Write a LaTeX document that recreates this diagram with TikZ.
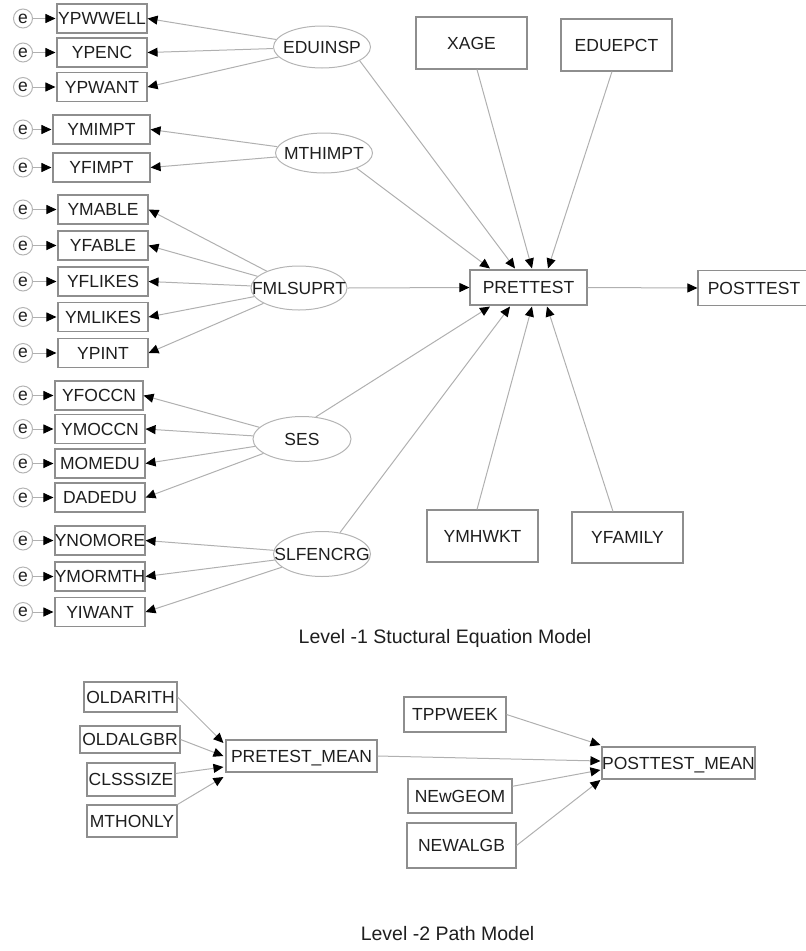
\documentclass[tikz,border=0pt]{standalone}
\usepackage{fontspec}
\setmainfont{Liberation Sans}
\usetikzlibrary{arrows.meta,shapes.geometric,calc}
\definecolor{ln}{HTML}{B0B0B0}
\definecolor{bd}{HTML}{8E8E8E}
\definecolor{elc}{HTML}{B4B4B4}
\definecolor{tx}{HTML}{1E1E1E}
\begin{document}
\begin{tikzpicture}[x=1pt,y=-1pt,
  font=\fontsize{17.5}{20}\selectfont, text=tx,
  bx/.style={draw=bd, line width=1.1pt, rectangle, inner sep=0pt, text height=12.6pt, text depth=0pt},
  lv/.style={draw=elc, line width=1pt, ellipse, inner sep=0pt, text height=12.6pt, text depth=0pt},
  er/.style={draw=elc, line width=1pt, circle, inner sep=0pt, minimum size=19pt, text height=9.1pt, text depth=0pt},
  ar/.style={draw=ln, line width=1pt, -{Triangle[length=10pt,width=9pt,color=black]}},
  ttl/.style={font=\fontsize{19.5}{22}\selectfont, anchor=base, inner sep=0pt}
]
\useasboundingbox (0,0) rectangle (806,951);

% indicator boxes with error terms
\foreach \n/\cx/\cy/\w/\t in {
  1/102/18.5/90/YPWWELL, 2/102/52.5/90/YPENC, 3/102/87/90/YPWANT,
  4/101.5/129.5/97/YMIMPT, 5/101.5/167.5/97/YFIMPT,
  6/103/209.5/90/YMABLE, 7/103/245.5/90/YFABLE, 8/103/281.5/90/YFLIKES,
  9/103/317/90/YMLIKES, 10/103/353/90/YPINT,
  11/99/395.5/88/YFOCCN, 12/100/429/90/YMOCCN, 13/100/463.5/90/MOMEDU,
  14/100/497.5/90/DADEDU,
  15/100/540.5/90/YNOMORE, 16/100/576.5/90/YMORMTH, 17/100/612/90/YIWANT}{
  \node[bx, minimum width=\w, minimum height=29] (b\n) at (\cx,\cy) {\makebox[0pt]{\t}};
  \node[er] (e\n) at (23,\cy) {e};
  \draw[ar, shorten >=1pt] (e\n) -- (b\n.west);
}

% latent variables
\node[lv, minimum width=97, minimum height=42] (ed) at (322,47) {\makebox[0pt]{EDUINSP}};
\node[lv, minimum width=97, minimum height=40] (mt) at (324,153) {\makebox[0pt]{MTHIMPT}};
\node[lv, minimum width=96, minimum height=44] (fm) at (299,288) {\makebox[0pt]{FMLSUPRT}};
\node[lv, minimum width=98, minimum height=45] (se) at (302,439) {\makebox[0pt]{SES}};
\node[lv, minimum width=97, minimum height=45] (sl) at (322,554) {\makebox[0pt]{SLFENCRG}};

\foreach \i in {1,2,3} \draw[ar] (ed) -- (b\i.east);
\foreach \i in {4,5} \draw[ar] (mt) -- (b\i.east);
\foreach \i in {6,...,10} \draw[ar] (fm) -- (b\i.east);
\foreach \i in {11,...,14} \draw[ar] (se) -- (b\i.east);
\foreach \i in {15,16,17} \draw[ar] (sl) -- (b\i.east);

% structural part
\node[bx, minimum width=111, minimum height=52] (xa) at (471.5,43) {\makebox[0pt]{XAGE}};
\node[bx, minimum width=111, minimum height=52] (ee) at (616.5,45) {\makebox[0pt]{EDUEPCT}};
\node[bx, minimum width=117, minimum height=35] (pr) at (528.5,287.5) {\makebox[0pt]{PRETTEST}};
\node[bx, minimum width=112, minimum height=35] (po) at (754,288) {\makebox[0pt]{POSTTEST}};
\node[bx, minimum width=111, minimum height=52] (ym) at (482.5,536) {\makebox[0pt]{YMHWKT}};
\node[bx, minimum width=111, minimum height=51] (yf) at (627.5,537.5) {\makebox[0pt]{YFAMILY}};

\draw[ar] (mt.-25) -- ($(pr.north)+(-38.5,-1)$);
\draw[ar] (ed.-20) -- ($(pr.north)+(-13.5,-1)$);
\draw[ar] ($(xa.south)+(5.5,0)$) -- ($(pr.north)+(3.5,-1)$);
\draw[ar] ($(ee.south)+(-4.5,0)$) -- ($(pr.north)+(19.5,-1)$);
\draw[ar] (fm.east) -- (pr.west);
\draw[ar] (se.58) -- ($(pr.south)+(-38.5,1)$);
\draw[ar] (sl.50) -- ($(pr.south)+(-18.5,1)$);
\draw[ar] ($(ym.north)+(-5.5,0)$) -- ($(pr.south)+(3.5,1)$);
\draw[ar] ($(yf.north)+(-14.5,0)$) -- ($(pr.south)+(18.5,1)$);
\draw[ar] (pr.east) -- (po.west);

\node[ttl] (t1) at (445,643) {Level -1 Stuctural Equation Model};

% level 2 path model
\node[bx, minimum width=93, minimum height=30] (oa) at (130.5,697) {\makebox[0pt]{OLDARITH}};
\node[bx, minimum width=100, minimum height=27] (ob) at (130,739.5) {\makebox[0pt]{OLDALGBR}};
\node[bx, minimum width=88, minimum height=33] (cs) at (131,779.5) {\makebox[0pt]{CLSSSIZE}};
\node[bx, minimum width=90, minimum height=32] (mo) at (132,821) {\makebox[0pt]{MTHONLY}};
\node[bx, minimum width=151, minimum height=32] (pm) at (301.5,756) {\makebox[0pt]{PRETEST\_MEAN}};
\node[bx, minimum width=102, minimum height=35] (tp) at (455,714.5) {\makebox[0pt]{TPPWEEK}};
\node[bx, minimum width=153, minimum height=32] (pt) at (678.5,763) {\makebox[0pt]{POSTTEST\_MEAN}};
\node[bx, minimum width=104, minimum height=34] (ng) at (460,796) {\makebox[0pt]{NEwGEOM}};
\node[bx, minimum width=109, minimum height=45] (na) at (461.5,845.5) {\makebox[0pt]{NEWALGB}};

\draw[ar] (oa.east) -- ($(pm.west)+(-2,-13)$);
\draw[ar] (ob.east) -- ($(pm.west)+(-2,0)$);
\draw[ar] (cs) -- ($(pm.west)+(-2,11)$);
\draw[ar] (mo.north east) -- ($(pm.west)+(-2,21)$);

\draw[ar] (tp.east) -- ($(pt.west)+(-1,-18)$);
\draw[ar] (pm.east) -- ($(pt.west)+(-1,-2)$);
\draw[ar] (ng) -- ($(pt.west)+(-1,7)$);
\draw[ar] (na.east) -- ($(pt.west)+(-1,17)$);

\node[ttl] (t2) at (447.5,940) {Level -2 Path Model};
\end{tikzpicture}
\end{document}
